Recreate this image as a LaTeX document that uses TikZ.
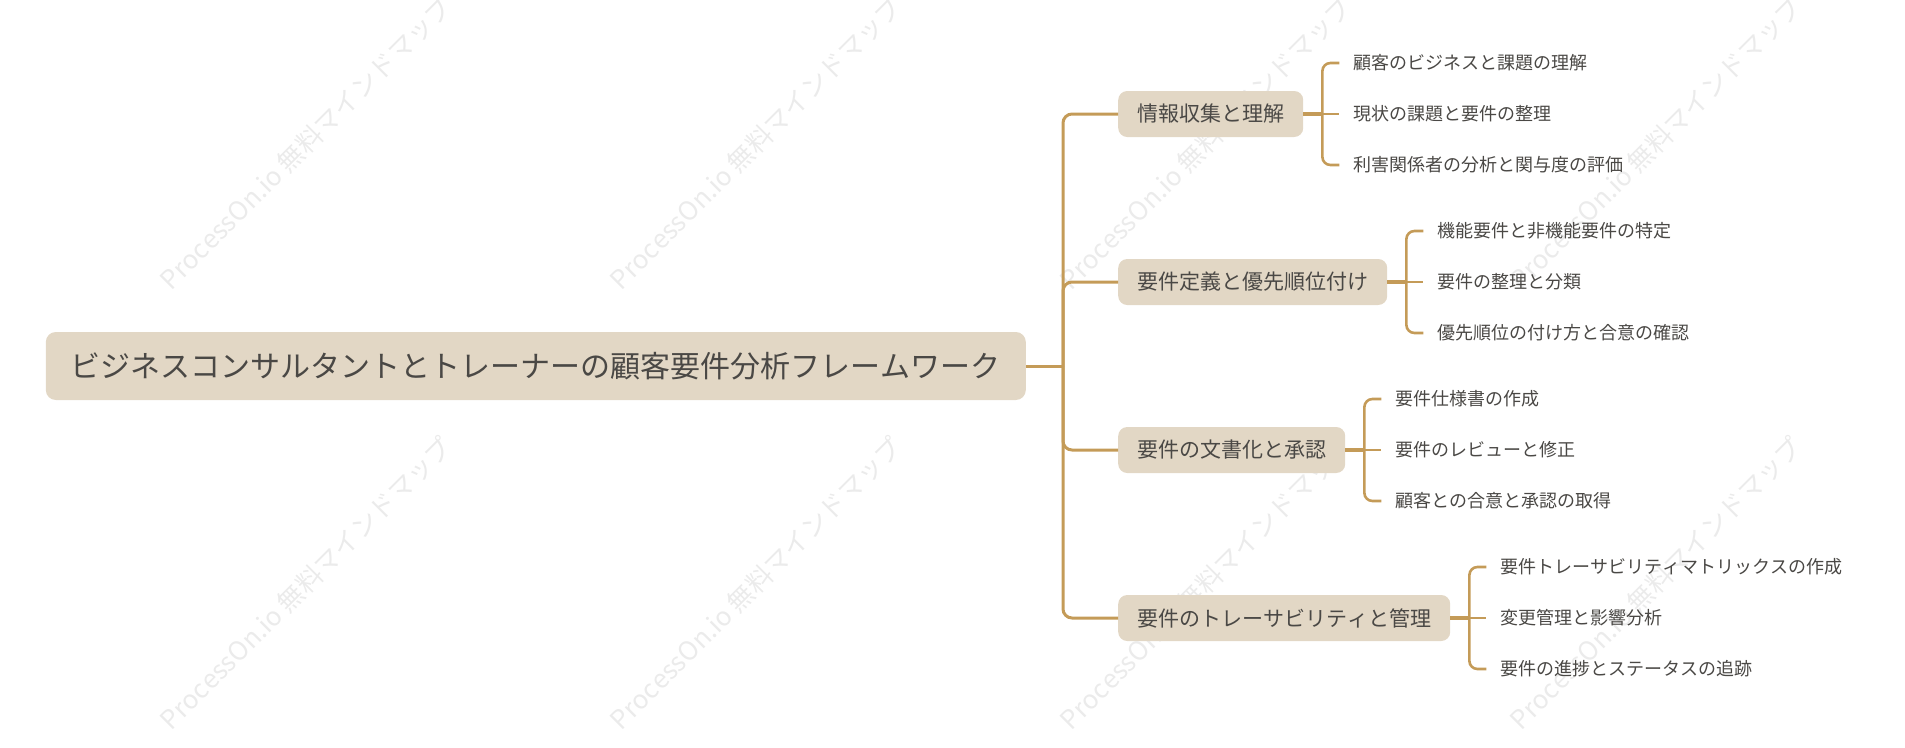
\documentclass[tikz,border=0pt]{standalone}
\usepackage{fontspec}
\setmainfont{Noto Sans CJK JP}[Kerning=Off]
\definecolor{boxfill}{HTML}{E2D7C5}
\definecolor{linec}{HTML}{C49B58}
\definecolor{txt}{HTML}{4A4845}
\definecolor{wm}{HTML}{EBEBEB}
\begin{document}
\begin{tikzpicture}[x=1pt,y=-1pt,
  rootbox/.style={fill=boxfill, rounded corners=10pt, minimum height=68pt, inner xsep=25pt, text=txt, font=\fontsize{30}{36}\selectfont, anchor=west},
  l1box/.style={fill=boxfill, rounded corners=9pt, minimum height=46pt, inner xsep=19pt, text=txt, font=\fontsize{21}{25}\selectfont, anchor=west},
  leaf/.style={inner xsep=14pt, inner ysep=0pt, text=txt, font=\fontsize{18}{22}\selectfont, anchor=west},
  trunk/.style={draw=linec, line width=3pt, rounded corners=9pt},
  brk/.style={draw=linec, line width=2.6pt, rounded corners=8pt},
  stem/.style={draw=linec, line width=3.4pt},
  wmark/.style={text=wm, font=\fontsize{26}{30}\selectfont, rotate=45}
]
\useasboundingbox (0,0) rectangle (1905,747);
\begin{scope}
\clip (0,0) rectangle (1905,747);
\foreach \i in {-1,...,3} \foreach \j in {0,1}
  \node[wmark] (wm\i\j) at ({306+450*\i},{143+440*\j}) {ProcessOn.io 無料マインドマップ};
\end{scope}

\node[rootbox] (root) at (45.6,366) {ビジネスコンサルタントとトレーナーの顧客要件分析フレームワーク};
\coordinate (J) at (1063,366);

\node[l1box] (a) at (1118,114) {情報収集と理解};
\node[l1box] (b) at (1118,282) {要件定義と優先順位付け};
\node[l1box] (c) at (1118,450) {要件の文書化と承認};
\node[l1box] (d) at (1118,618) {要件のトレーサビリティと管理};

\draw[trunk] (root.east) -- (J);
\foreach \n in {a,b,c,d} \draw[trunk] (J) |- (\n.west);

\path (a.east) ++(36,-51) node[leaf] (a1) {顧客のビジネスと課題の理解};
\path (a.east) ++(36,0) node[leaf] (a2) {現状の課題と要件の整理};
\path (a.east) ++(36,51) node[leaf] (a3) {利害関係者の分析と関与度の評価};

\path (b.east) ++(36,-51) node[leaf] (b1) {機能要件と非機能要件の特定};
\path (b.east) ++(36,0) node[leaf] (b2) {要件の整理と分類};
\path (b.east) ++(36,51) node[leaf] (b3) {優先順位の付け方と合意の確認};

\path (c.east) ++(36,-51) node[leaf] (c1) {要件仕様書の作成};
\path (c.east) ++(36,0) node[leaf] (c2) {要件のレビューと修正};
\path (c.east) ++(36,51) node[leaf] (c3) {顧客との合意と承認の取得};

\path (d.east) ++(36,-51) node[leaf] (d1) {要件トレーサビリティマトリックスの作成};
\path (d.east) ++(36,0) node[leaf] (d2) {変更管理と影響分析};
\path (d.east) ++(36,51) node[leaf] (d3) {要件の進捗とステータスの追跡};

\foreach \n in {a,b,c,d} {
  \draw[stem] (\n.east) -- ++(19,0) coordinate (\n br);
  \draw[brk] (\n br) -- (\n2.west);
  \draw[brk] (\n br) |- (\n1.west);
  \draw[brk] (\n br) |- (\n3.west);
}
\end{tikzpicture}
\end{document}
